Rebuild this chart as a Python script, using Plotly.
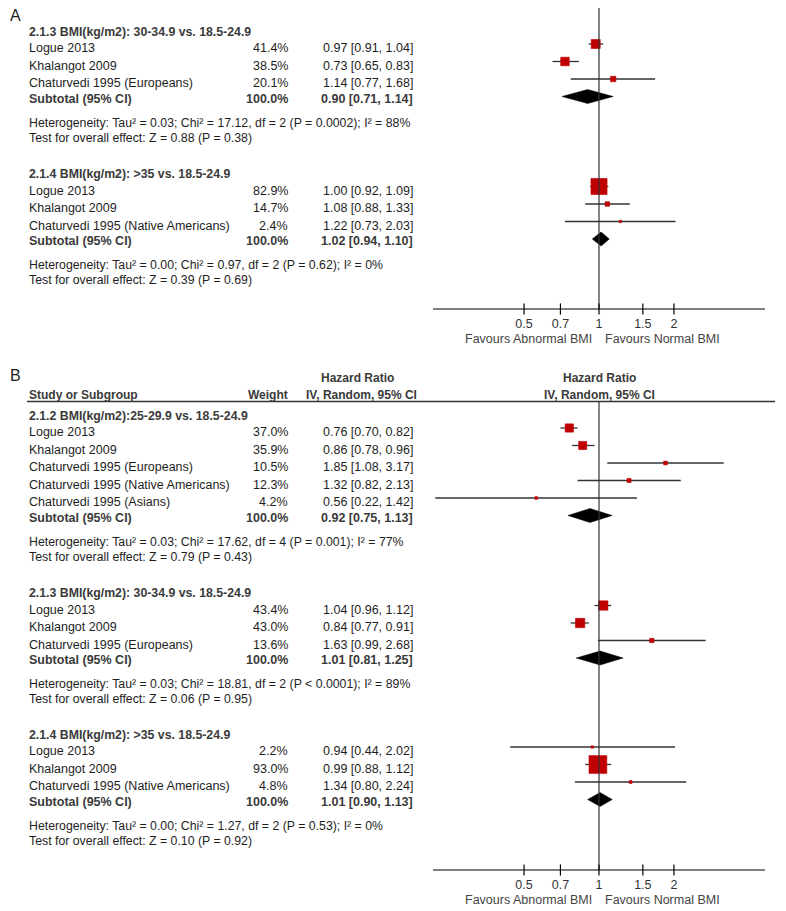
import plotly.graph_objects as go

# ---------------- data ----------------
A1_heading = "2.1.3 BMI(kg/m2): 30-34.9 vs. 18.5-24.9"
A1_studies = ["Logue 2013", "Khalangot 2009", "Chaturvedi 1995 (Europeans)"]
A1_weight = [41.4, 38.5, 20.1]
A1_hr = [0.97, 0.73, 1.14]
A1_lo = [0.91, 0.65, 0.77]
A1_hi = [1.04, 0.83, 1.68]
A1_sub = [0.90, 0.71, 1.14]
A1_het = "Heterogeneity: Tau² = 0.03; Chi² = 17.12, df = 2 (P = 0.0002); I² = 88%"
A1_test = "Test for overall effect: Z = 0.88 (P = 0.38)"

A2_heading = "2.1.4 BMI(kg/m2): >35 vs. 18.5-24.9"
A2_studies = ["Logue 2013", "Khalangot 2009", "Chaturvedi 1995 (Native Americans)"]
A2_weight = [82.9, 14.7, 2.4]
A2_hr = [1.00, 1.08, 1.22]
A2_lo = [0.92, 0.88, 0.73]
A2_hi = [1.09, 1.33, 2.03]
A2_sub = [1.02, 0.94, 1.10]
A2_het = "Heterogeneity: Tau² = 0.00; Chi² = 0.97, df = 2 (P = 0.62); I² = 0%"
A2_test = "Test for overall effect: Z = 0.39 (P = 0.69)"

B1_heading = "2.1.2 BMI(kg/m2):25-29.9 vs. 18.5-24.9"
B1_studies = ["Logue 2013", "Khalangot 2009", "Chaturvedi 1995 (Europeans)",
              "Chaturvedi 1995 (Native Americans)", "Chaturvedi 1995 (Asians)"]
B1_weight = [37.0, 35.9, 10.5, 12.3, 4.2]
B1_hr = [0.76, 0.86, 1.85, 1.32, 0.56]
B1_lo = [0.70, 0.78, 1.08, 0.82, 0.22]
B1_hi = [0.82, 0.96, 3.17, 2.13, 1.42]
B1_sub = [0.92, 0.75, 1.13]
B1_het = "Heterogeneity: Tau² = 0.03; Chi² = 17.62, df = 4 (P = 0.001); I² = 77%"
B1_test = "Test for overall effect: Z = 0.79 (P = 0.43)"

B2_heading = "2.1.3 BMI(kg/m2): 30-34.9 vs. 18.5-24.9"
B2_studies = ["Logue 2013", "Khalangot 2009", "Chaturvedi 1995 (Europeans)"]
B2_weight = [43.4, 43.0, 13.6]
B2_hr = [1.04, 0.84, 1.63]
B2_lo = [0.96, 0.77, 0.99]
B2_hi = [1.12, 0.91, 2.68]
B2_sub = [1.01, 0.81, 1.25]
B2_het = "Heterogeneity: Tau² = 0.03; Chi² = 18.81, df = 2 (P < 0.0001); I² = 89%"
B2_test = "Test for overall effect: Z = 0.06 (P = 0.95)"

B3_heading = "2.1.4 BMI(kg/m2): >35 vs. 18.5-24.9"
B3_studies = ["Logue 2013", "Khalangot 2009", "Chaturvedi 1995 (Native Americans)"]
B3_weight = [2.2, 93.0, 4.8]
B3_hr = [0.94, 0.99, 1.34]
B3_lo = [0.44, 0.88, 0.80]
B3_hi = [2.02, 1.12, 2.24]
B3_sub = [1.01, 0.90, 1.13]
B3_het = "Heterogeneity: Tau² = 0.00; Chi² = 1.27, df = 2 (P = 0.53); I² = 0%"
B3_test = "Test for overall effect: Z = 0.10 (P = 0.92)"

TICK_VALS = [0.5, 0.7, 1, 1.5, 2]
TICK_TEXT = ["0.5", "0.7", "1", "1.5", "2"]
FAV_LEFT = "Favours Abnormal BMI"
FAV_RIGHT = "Favours Normal BMI"

# ---------------- layout constants ----------------
PAGE_W, PAGE_H = 786, 911
OFF = 8                      # default body margin of the html page
W, H = PAGE_W - OFF, PAGE_H - OFF
FONT = "Arial, 'Liberation Sans', sans-serif"
XL, XR = 433, 765            # forest axis pixel extent (page coords)
LOG_HALF = 0.6667
X_NAME, X_WEIGHT, X_EFFECT = 28, 289, 414
RED = "#C00000"
TXT = "#1e1e1e"
BOLD_TXT = "#3a3a3a"
LINE = "#333333"
ROW = 17.5


def px(x):
    return (x - OFF) / W


groups = [
    dict(h=A1_heading, s=A1_studies, w=A1_weight, hr=A1_hr, lo=A1_lo, hi=A1_hi,
         sub=A1_sub, het=A1_het, test=A1_test, y0=31.5),
    dict(h=A2_heading, s=A2_studies, w=A2_weight, hr=A2_hr, lo=A2_lo, hi=A2_hi,
         sub=A2_sub, het=A2_het, test=A2_test, y0=174),
    dict(h=B1_heading, s=B1_studies, w=B1_weight, hr=B1_hr, lo=B1_lo, hi=B1_hi,
         sub=B1_sub, het=B1_het, test=B1_test, y0=415.5),
    dict(h=B2_heading, s=B2_studies, w=B2_weight, hr=B2_hr, lo=B2_lo, hi=B2_hi,
         sub=B2_sub, het=B2_het, test=B2_test, y0=593),
    dict(h=B3_heading, s=B3_studies, w=B3_weight, hr=B3_hr, lo=B3_lo, hi=B3_hi,
         sub=B3_sub, het=B3_het, test=B3_test, y0=734.5),
]

fig = go.Figure()
ann = []
shapes = []


def text(x, y, s, anchor="left", size=12.5, bold=False, color=TXT):
    ann.append(dict(x=px(x), xref="paper", y=y, yref="y", text=f"<b>{s}</b>" if bold else s,
                    showarrow=False, xanchor=anchor, yanchor="middle", borderpad=0,
                    font=dict(family=FONT, size=size, color=color)))


# panel labels
text(9, 15, "A", size=16)
text(9, 375, "B", size=16)

# panel B header
text((X_WEIGHT + X_EFFECT) / 2 + 6, 378, "Hazard Ratio", anchor="center", bold=True, color=BOLD_TXT, size=12)
text(X_EFFECT + 4, 395, "IV, Random, 95% CI", anchor="right", bold=True, color=BOLD_TXT, size=12)
text(X_WEIGHT, 395, "Weight", anchor="right", bold=True, color=BOLD_TXT, size=12)
text(X_NAME, 395, "Study or Subgroup", bold=True, color=BOLD_TXT, size=12)
text(599, 378, "Hazard Ratio", anchor="center", bold=True, color=BOLD_TXT, size=12)
text(599, 395, "IV, Random, 95% CI", anchor="center", bold=True, color=BOLD_TXT, size=12)
shapes.append(dict(type="line", xref="paper", yref="y", x0=px(27), x1=px(775), y0=401.5, y1=401.5,
                   line=dict(color=LINE, width=1.5)))

for g in groups:
    text(X_NAME, g["y0"], g["h"], bold=True, color=BOLD_TXT, size=12.3)
    ys = [g["y0"] + 12.5 + ROW * i for i in range(len(g["s"]))]
    yd = ys[-1] + ROW
    for name, w, hr, lo, hi, y in zip(g["s"], g["w"], g["hr"], g["lo"], g["hi"], ys):
        text(X_NAME, y + 4, name)
        text(X_WEIGHT, y + 4, f"{w:.1f}%", anchor="right")
        text(X_EFFECT, y + 4, f"{hr:.2f} [{lo:.2f}, {hi:.2f}]", anchor="right")
    text(X_NAME, yd + 2, "Subtotal (95% CI)", bold=True, color=BOLD_TXT)
    text(X_WEIGHT, yd + 2, "100.0%", anchor="right", bold=True, color=BOLD_TXT)
    est, slo, shi = g["sub"]
    text(X_EFFECT, yd + 2, f"{est:.2f} [{slo:.2f}, {shi:.2f}]", anchor="right", bold=True, color=BOLD_TXT)
    text(X_NAME, yd + 26, g["het"], size=12.3)
    text(X_NAME, yd + 41, g["test"], size=12.3)

    # CI lines
    lx, ly = [], []
    for lo, hi, y in zip(g["lo"], g["hi"], ys):
        lx += [lo, hi, None]
        ly += [y, y, None]
    fig.add_trace(go.Scatter(x=lx, y=ly, mode="lines", line=dict(color=LINE, width=1.3),
                             hoverinfo="skip", cliponaxis=False))
    # squares
    fig.add_trace(go.Scatter(x=g["hr"], y=ys, mode="markers",
                             marker=dict(symbol="square", color=RED, opacity=1,
                                         size=[2 + 0.17 * w for w in g["w"]],
                                         line=dict(width=0.6, color=RED)),
                             cliponaxis=False))
    # diamond
    fig.add_trace(go.Scatter(x=[slo, est, shi, est, slo], y=[yd, yd - 7, yd, yd + 7, yd],
                             mode="lines", fill="toself", fillcolor="black",
                             line=dict(color="black", width=0.5), cliponaxis=False))

# null lines, axes, ticks
for ytop, yaxis in [(4, 309), (401.5, 870)]:
    fig.add_trace(go.Scatter(x=[1, 1], y=[max(ytop, OFF), yaxis], mode="lines",
                             line=dict(color=LINE, width=1.2), cliponaxis=False))
    shapes.append(dict(type="line", xref="paper", yref="y", x0=px(XL), x1=px(XR), y0=yaxis, y1=yaxis,
                       line=dict(color="black", width=1.2)))
    fig.add_trace(go.Scatter(x=TICK_VALS, y=[yaxis] * len(TICK_VALS), mode="markers",
                             marker=dict(symbol="line-ns", size=8, line=dict(color="black", width=1.2)),
                             cliponaxis=False))
    fig.add_trace(go.Scatter(x=TICK_VALS, y=[yaxis + 16] * len(TICK_VALS), mode="text",
                             text=TICK_TEXT, textposition="middle center",
                             textfont=dict(family=FONT, size=12.5, color="#333"), cliponaxis=False))
    text(593, yaxis + 30, FAV_LEFT, anchor="right", size=12.5, color="#444")
    text(604, yaxis + 30, FAV_RIGHT, anchor="left", size=12.5, color="#444")

fig.update_layout(
    width=W, height=H, margin=dict(l=0, r=0, t=0, b=0),
    paper_bgcolor="white", plot_bgcolor="white", showlegend=False,
    xaxis=dict(type="log", domain=[px(XL), px(XR)], range=[-LOG_HALF, LOG_HALF], visible=False),
    yaxis=dict(range=[PAGE_H, OFF], domain=[0, 1], visible=False),
    annotations=ann, shapes=shapes,
)

fig.write_html("out.html")
